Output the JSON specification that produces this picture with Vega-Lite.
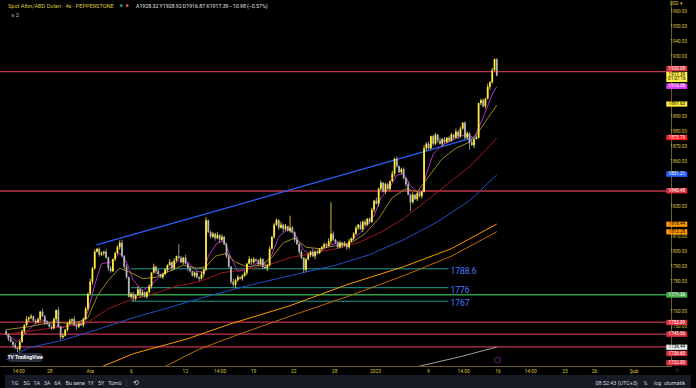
{
"$schema": "https://vega.github.io/schema/vega-lite/v6.json",
"width": 671, "height": 366, "padding": {"left": 0, "top": 0, "right": 25, "bottom": 22}, "autosize": "none",
"background": "#000000",
"config": {"view": {"stroke": null}, "axis": {"grid": false, "ticks": false, "labelFont": "Roboto"}, "text": {"font": "Roboto"}},
"datasets": {
"k": [
{"i":0,"o":1747,"h":1748.2,"l":1744.2,"c":1745},{"i":1,"o":1745,"h":1745.6,"l":1740.4,"c":1742},{"i":2,"o":1742,"h":1744,"l":1739.5,"c":1740},{"i":3,"o":1740,"h":1740.8,"l":1736.1,"c":1738},{"i":4,"o":1738,"h":1739.5,"l":1735,"c":1736},{"i":5,"o":1736,"h":1736.4,"l":1733,"c":1735},{"i":6,"o":1735,"h":1741,"l":1733.7,"c":1740},{"i":7,"o":1740,"h":1748.2,"l":1739.2,"c":1747},{"i":8,"o":1747,"h":1751.6,"l":1745.4,"c":1751},{"i":9,"o":1751,"h":1757,"l":1750.5,"c":1755},
{"i":10,"o":1755,"h":1756.8,"l":1753.1,"c":1756},{"i":11,"o":1756,"h":1758.5,"l":1755,"c":1757},{"i":12,"o":1757,"h":1757.4,"l":1753.4,"c":1754},{"i":13,"o":1754,"h":1755,"l":1751.7,"c":1753},{"i":14,"o":1753,"h":1756.2,"l":1752.2,"c":1755},{"i":15,"o":1755,"h":1760.6,"l":1753.4,"c":1760},{"i":16,"o":1760,"h":1762,"l":1756.5,"c":1757},{"i":17,"o":1757,"h":1757.8,"l":1751.1,"c":1753},{"i":18,"o":1753,"h":1754.5,"l":1751,"c":1752},{"i":19,"o":1752,"h":1752.4,"l":1749.4,"c":1750},
{"i":20,"o":1750,"h":1751,"l":1747.7,"c":1749},{"i":21,"o":1749,"h":1756.2,"l":1748.2,"c":1755},{"i":22,"o":1755,"h":1761.6,"l":1753.4,"c":1761},{"i":23,"o":1761,"h":1763,"l":1749.5,"c":1750},{"i":24,"o":1750,"h":1750.8,"l":1741.1,"c":1743},{"i":25,"o":1743,"h":1745.5,"l":1742,"c":1744},{"i":26,"o":1744,"h":1748.4,"l":1743.4,"c":1748},{"i":27,"o":1748,"h":1753,"l":1746.7,"c":1752},{"i":28,"o":1752,"h":1755.2,"l":1751.2,"c":1754},{"i":29,"o":1754,"h":1755.6,"l":1752.4,"c":1755},
{"i":30,"o":1755,"h":1757,"l":1750.5,"c":1751},{"i":31,"o":1751,"h":1751.8,"l":1748.1,"c":1750},{"i":32,"o":1750,"h":1753.5,"l":1749,"c":1752},{"i":33,"o":1752,"h":1752.4,"l":1750.4,"c":1751},{"i":34,"o":1751,"h":1756,"l":1749.7,"c":1755},{"i":35,"o":1755,"h":1763.2,"l":1754.2,"c":1762},{"i":36,"o":1762,"h":1772.6,"l":1760.4,"c":1772},{"i":37,"o":1772,"h":1782,"l":1771.5,"c":1780},{"i":38,"o":1780,"h":1789.8,"l":1778.1,"c":1789},{"i":39,"o":1789,"h":1801.5,"l":1788,"c":1800},
{"i":40,"o":1800,"h":1802.4,"l":1799.4,"c":1802},{"i":41,"o":1802,"h":1803,"l":1796.7,"c":1798},{"i":42,"o":1798,"h":1800.2,"l":1797.2,"c":1799},{"i":43,"o":1799,"h":1800.6,"l":1797.4,"c":1800},{"i":44,"o":1800,"h":1802,"l":1795.5,"c":1796},{"i":45,"o":1796,"h":1796.8,"l":1787.1,"c":1789},{"i":46,"o":1789,"h":1790.5,"l":1786,"c":1787},{"i":47,"o":1787,"h":1795.4,"l":1786.4,"c":1795},{"i":48,"o":1795,"h":1800,"l":1793.7,"c":1799},{"i":49,"o":1799,"h":1804.2,"l":1798.2,"c":1803},
{"i":50,"o":1803,"h":1807.6,"l":1801.4,"c":1806},{"i":51,"o":1806,"h":1808,"l":1796.5,"c":1797},{"i":52,"o":1797,"h":1797.8,"l":1788.1,"c":1790},{"i":53,"o":1790,"h":1791.5,"l":1782,"c":1783},{"i":54,"o":1783,"h":1783.4,"l":1769.4,"c":1770},{"i":55,"o":1770,"h":1773,"l":1768.7,"c":1772},{"i":56,"o":1772,"h":1773.2,"l":1767,"c":1769},{"i":57,"o":1769,"h":1771.6,"l":1767.4,"c":1771},{"i":58,"o":1771,"h":1777,"l":1770.5,"c":1775},{"i":59,"o":1775,"h":1775.8,"l":1769.1,"c":1771},
{"i":60,"o":1771,"h":1774.5,"l":1770,"c":1773},{"i":61,"o":1773,"h":1773.4,"l":1769.4,"c":1770},{"i":62,"o":1770,"h":1774,"l":1768.7,"c":1773},{"i":63,"o":1773,"h":1778.2,"l":1772.2,"c":1777},{"i":64,"o":1777,"h":1786.6,"l":1775.4,"c":1786},{"i":65,"o":1786,"h":1792,"l":1785.5,"c":1790},{"i":66,"o":1790,"h":1790.8,"l":1785.1,"c":1787},{"i":67,"o":1787,"h":1788.5,"l":1784,"c":1785},{"i":68,"o":1785,"h":1785.4,"l":1782.4,"c":1783},{"i":69,"o":1783,"h":1786,"l":1781.7,"c":1785},
{"i":70,"o":1785,"h":1789.2,"l":1784.2,"c":1788},{"i":71,"o":1788,"h":1791.6,"l":1786.4,"c":1791},{"i":72,"o":1791,"h":1795,"l":1790.5,"c":1793},{"i":73,"o":1793,"h":1793.8,"l":1787.1,"c":1789},{"i":74,"o":1789,"h":1795.5,"l":1788,"c":1794},{"i":75,"o":1794,"h":1797.4,"l":1793.4,"c":1797},{"i":76,"o":1797,"h":1805,"l":1794.7,"c":1796},{"i":77,"o":1796,"h":1797.2,"l":1792.2,"c":1793},{"i":78,"o":1793,"h":1796.6,"l":1791.4,"c":1796},{"i":79,"o":1796,"h":1798,"l":1791.5,"c":1792},
{"i":80,"o":1792,"h":1792.8,"l":1787.1,"c":1789},{"i":81,"o":1789,"h":1790.5,"l":1786,"c":1787},{"i":82,"o":1787,"h":1787.4,"l":1783.4,"c":1784},{"i":83,"o":1784,"h":1787,"l":1782.7,"c":1786},{"i":84,"o":1786,"h":1787.2,"l":1782.2,"c":1783},{"i":85,"o":1783,"h":1783.6,"l":1780.4,"c":1782},{"i":86,"o":1782,"h":1787,"l":1781.5,"c":1785},{"i":87,"o":1785,"h":1788.8,"l":1783.1,"c":1788},{"i":88,"o":1788,"h":1823,"l":1787,"c":1821},{"i":89,"o":1821,"h":1821.4,"l":1812.4,"c":1813},
{"i":90,"o":1813,"h":1814,"l":1808.7,"c":1810},{"i":91,"o":1810,"h":1813.2,"l":1809.2,"c":1812},{"i":92,"o":1812,"h":1812.6,"l":1807.4,"c":1809},{"i":93,"o":1809,"h":1813,"l":1808.5,"c":1811},{"i":94,"o":1811,"h":1811.8,"l":1806.1,"c":1808},{"i":95,"o":1808,"h":1811.5,"l":1807,"c":1810},{"i":96,"o":1810,"h":1810.4,"l":1804.4,"c":1805},{"i":97,"o":1805,"h":1806,"l":1795.7,"c":1797},{"i":98,"o":1797,"h":1798.2,"l":1789.2,"c":1790},{"i":99,"o":1790,"h":1790.6,"l":1778.4,"c":1780},
{"i":100,"o":1780,"h":1782,"l":1776.5,"c":1778},{"i":101,"o":1778,"h":1781.8,"l":1776.1,"c":1781},{"i":102,"o":1781,"h":1784.5,"l":1780,"c":1783},{"i":103,"o":1783,"h":1783.4,"l":1781.4,"c":1782},{"i":104,"o":1782,"h":1785,"l":1780.7,"c":1784},{"i":105,"o":1784,"h":1787.2,"l":1783.2,"c":1786},{"i":106,"o":1786,"h":1792.6,"l":1784.4,"c":1792},{"i":107,"o":1792,"h":1797,"l":1791.5,"c":1795},{"i":108,"o":1795,"h":1795.8,"l":1791.1,"c":1793},{"i":109,"o":1793,"h":1796.5,"l":1792,"c":1795},
{"i":110,"o":1795,"h":1795.4,"l":1793.4,"c":1794},{"i":111,"o":1794,"h":1795,"l":1790.7,"c":1792},{"i":112,"o":1792,"h":1796.2,"l":1791.2,"c":1795},{"i":113,"o":1795,"h":1795.6,"l":1788.4,"c":1790},{"i":114,"o":1790,"h":1792,"l":1788.5,"c":1789},{"i":115,"o":1789,"h":1791.8,"l":1787.1,"c":1791},{"i":116,"o":1791,"h":1803.5,"l":1790,"c":1802},{"i":117,"o":1802,"h":1810.4,"l":1801.4,"c":1810},{"i":118,"o":1810,"h":1819,"l":1808.7,"c":1818},{"i":119,"o":1818,"h":1822.2,"l":1817.2,"c":1821},
{"i":120,"o":1821,"h":1821.6,"l":1814.4,"c":1816},{"i":121,"o":1816,"h":1820,"l":1815.5,"c":1818},{"i":122,"o":1818,"h":1818.8,"l":1813.1,"c":1815},{"i":123,"o":1815,"h":1818.5,"l":1814,"c":1817},{"i":124,"o":1817,"h":1817.4,"l":1813.4,"c":1814},{"i":125,"o":1814,"h":1824,"l":1812.7,"c":1816},{"i":126,"o":1816,"h":1817.2,"l":1812.2,"c":1813},{"i":127,"o":1813,"h":1813.6,"l":1806.4,"c":1808},{"i":128,"o":1808,"h":1810,"l":1804.5,"c":1805},{"i":129,"o":1805,"h":1805.8,"l":1798.1,"c":1800},
{"i":130,"o":1800,"h":1801.5,"l":1795,"c":1796},{"i":131,"o":1796,"h":1796.4,"l":1786,"c":1788},{"i":132,"o":1788,"h":1796,"l":1786.7,"c":1795},{"i":133,"o":1795,"h":1799.2,"l":1794.2,"c":1798},{"i":134,"o":1798,"h":1800.6,"l":1796.4,"c":1800},{"i":135,"o":1800,"h":1802,"l":1796.5,"c":1797},{"i":136,"o":1797,"h":1800.8,"l":1795.1,"c":1800},{"i":137,"o":1800,"h":1801.5,"l":1798,"c":1799},{"i":138,"o":1799,"h":1802.4,"l":1798.4,"c":1802},{"i":139,"o":1802,"h":1804,"l":1800.7,"c":1803},
{"i":140,"o":1803,"h":1806.2,"l":1802.2,"c":1805},{"i":141,"o":1805,"h":1805.6,"l":1802.4,"c":1804},{"i":142,"o":1804,"h":1809,"l":1803.5,"c":1807},{"i":143,"o":1807,"h":1833,"l":1805.1,"c":1812},{"i":144,"o":1812,"h":1813.5,"l":1807,"c":1808},{"i":145,"o":1808,"h":1808.4,"l":1805.4,"c":1806},{"i":146,"o":1806,"h":1807,"l":1801.7,"c":1803},{"i":147,"o":1803,"h":1807.2,"l":1802.2,"c":1806},{"i":148,"o":1806,"h":1806.6,"l":1802.4,"c":1804},{"i":149,"o":1804,"h":1807,"l":1803.5,"c":1805},
{"i":150,"o":1805,"h":1805.8,"l":1801.1,"c":1803},{"i":151,"o":1803,"h":1808.5,"l":1802,"c":1807},{"i":152,"o":1807,"h":1809.4,"l":1806.4,"c":1809},{"i":153,"o":1809,"h":1813,"l":1807.7,"c":1812},{"i":154,"o":1812,"h":1817.2,"l":1811.2,"c":1816},{"i":155,"o":1816,"h":1818.6,"l":1814.4,"c":1818},{"i":156,"o":1818,"h":1820,"l":1814.5,"c":1815},{"i":157,"o":1815,"h":1820.8,"l":1813.1,"c":1820},{"i":158,"o":1820,"h":1821.5,"l":1817,"c":1818},{"i":159,"o":1818,"h":1822.4,"l":1817.4,"c":1822},
{"i":160,"o":1822,"h":1823,"l":1818.7,"c":1820},{"i":161,"o":1820,"h":1829.2,"l":1819.2,"c":1828},{"i":162,"o":1828,"h":1834.6,"l":1826.4,"c":1834},{"i":163,"o":1834,"h":1836,"l":1831.5,"c":1832},{"i":164,"o":1832,"h":1842.8,"l":1830.1,"c":1842},{"i":165,"o":1842,"h":1847.5,"l":1841,"c":1846},{"i":166,"o":1846,"h":1846.4,"l":1839.4,"c":1840},{"i":167,"o":1840,"h":1846,"l":1838.7,"c":1845},{"i":168,"o":1845,"h":1846.2,"l":1841.2,"c":1842},{"i":169,"o":1842,"h":1847.6,"l":1840.4,"c":1847},
{"i":170,"o":1847,"h":1854,"l":1846.5,"c":1852},{"i":171,"o":1852,"h":1862.8,"l":1850.1,"c":1862},{"i":172,"o":1862,"h":1863.5,"l":1856,"c":1857},{"i":173,"o":1857,"h":1857.4,"l":1852.4,"c":1853},{"i":174,"o":1853,"h":1856,"l":1851.7,"c":1855},{"i":175,"o":1855,"h":1856.2,"l":1848.2,"c":1849},{"i":176,"o":1849,"h":1849.6,"l":1843.4,"c":1845},{"i":177,"o":1845,"h":1847,"l":1837.5,"c":1838},{"i":178,"o":1838,"h":1838.8,"l":1827,"c":1833},{"i":179,"o":1833,"h":1839.5,"l":1832,"c":1838},
{"i":180,"o":1838,"h":1838.4,"l":1834.4,"c":1835},{"i":181,"o":1835,"h":1840,"l":1833.7,"c":1839},{"i":182,"o":1839,"h":1840.2,"l":1836.2,"c":1837},{"i":183,"o":1837,"h":1840.6,"l":1835.4,"c":1840},{"i":184,"o":1840,"h":1871,"l":1839.5,"c":1869},{"i":185,"o":1869,"h":1872.8,"l":1867.1,"c":1872},{"i":186,"o":1872,"h":1873.5,"l":1868,"c":1869},{"i":187,"o":1869,"h":1877.4,"l":1868.4,"c":1877},{"i":188,"o":1877,"h":1878,"l":1870.7,"c":1872},{"i":189,"o":1872,"h":1879.2,"l":1871.2,"c":1878},
{"i":190,"o":1878,"h":1878.6,"l":1872.4,"c":1874},{"i":191,"o":1874,"h":1876,"l":1871.5,"c":1872},{"i":192,"o":1872,"h":1875.8,"l":1870.1,"c":1875},{"i":193,"o":1875,"h":1876.5,"l":1872,"c":1873},{"i":194,"o":1873,"h":1876.4,"l":1872.4,"c":1876},{"i":195,"o":1876,"h":1877,"l":1872.7,"c":1874},{"i":196,"o":1874,"h":1879.2,"l":1873.2,"c":1878},{"i":197,"o":1878,"h":1878.6,"l":1874.4,"c":1876},{"i":198,"o":1876,"h":1882,"l":1875.5,"c":1880},{"i":199,"o":1880,"h":1880.8,"l":1875.1,"c":1877},
{"i":200,"o":1877,"h":1883.5,"l":1876,"c":1882},{"i":201,"o":1882,"h":1886.4,"l":1881.4,"c":1886},{"i":202,"o":1886,"h":1887,"l":1874.7,"c":1876},{"i":203,"o":1876,"h":1880.2,"l":1875.2,"c":1879},{"i":204,"o":1879,"h":1879.6,"l":1868,"c":1873},{"i":205,"o":1873,"h":1875,"l":1870.5,"c":1871},{"i":206,"o":1871,"h":1875.8,"l":1869.1,"c":1875},{"i":207,"o":1875,"h":1877.5,"l":1875,"c":1876},{"i":208,"o":1876,"h":1899.4,"l":1875.4,"c":1899},{"i":209,"o":1899,"h":1902,"l":1897.7,"c":1901},
{"i":210,"o":1901,"h":1902.2,"l":1896.2,"c":1897},{"i":211,"o":1897,"h":1902.6,"l":1895.4,"c":1902},{"i":212,"o":1902,"h":1912,"l":1901.5,"c":1910},{"i":213,"o":1910,"h":1913.8,"l":1908.1,"c":1913},{"i":214,"o":1913,"h":1922.5,"l":1912,"c":1921},{"i":215,"o":1921,"h":1928.8,"l":1920.4,"c":1928.37},{"i":216,"o":1928.32,"h":1928.92,"l":1916.87,"c":1917.39}
],
"ma": [
{"s":"m","i":0,"v":1745},{"s":"m","i":5,"v":1740},{"s":"m","i":10,"v":1748},{"s":"m","i":15,"v":1755},{"s":"m","i":20,"v":1752},{"s":"m","i":24,"v":1749},{"s":"m","i":28,"v":1751},{"s":"m","i":33,"v":1752},{"s":"m","i":36,"v":1760},{"s":"m","i":39,"v":1778},{"s":"m","i":42,"v":1792},{"s":"m","i":46,"v":1793},{"s":"m","i":50,"v":1799},{"s":"m","i":53,"v":1793},{"s":"m","i":56,"v":1781},{"s":"m","i":60,"v":1774},{"s":"m","i":64,"v":1778},{"s":"m","i":68,"v":1784},{"s":"m","i":72,"v":1789},{"s":"m","i":76,"v":1794},{"s":"m","i":80,"v":1793},{"s":"m","i":84,"v":1787},{"s":"m","i":87,"v":1786},{"s":"m","i":89,"v":1797},{"s":"m","i":93,"v":1806},{"s":"m","i":96,"v":1807},{"s":"m","i":99,"v":1796},{"s":"m","i":102,"v":1787},{"s":"m","i":106,"v":1788},{"s":"m","i":110,"v":1792},{"s":"m","i":114,"v":1792},{"s":"m","i":117,"v":1798},{"s":"m","i":120,"v":1810},{"s":"m","i":124,"v":1815},{"s":"m","i":127,"v":1812},{"s":"m","i":131,"v":1801},{"s":"m","i":134,"v":1798},{"s":"m","i":138,"v":1800},{"s":"m","i":142,"v":1804},{"s":"m","i":146,"v":1806},{"s":"m","i":150,"v":1805},{"s":"m","i":154,"v":1810},{"s":"m","i":158,"v":1816},{"s":"m","i":162,"v":1824},{"s":"m","i":165,"v":1836},{"s":"m","i":169,"v":1843},{"s":"m","i":172,"v":1851},{"s":"m","i":175,"v":1852},{"s":"m","i":178,"v":1844},{"s":"m","i":181,"v":1840},{"s":"m","i":183,"v":1839},{"s":"m","i":185,"v":1852},{"s":"m","i":188,"v":1865},{"s":"m","i":192,"v":1871},{"s":"m","i":196,"v":1874},{"s":"m","i":200,"v":1877},{"s":"m","i":203,"v":1878},{"s":"m","i":206,"v":1876},{"s":"m","i":209,"v":1886},{"s":"m","i":212,"v":1897},{"s":"m","i":214,"v":1905},{"s":"m","i":216,"v":1910.08},
{"s":"o","i":0,"v":1748},{"s":"o","i":10,"v":1750},{"s":"o","i":20,"v":1753},{"s":"o","i":30,"v":1752},{"s":"o","i":36,"v":1756},{"s":"o","i":40,"v":1770},{"s":"o","i":45,"v":1781},{"s":"o","i":50,"v":1789},{"s":"o","i":55,"v":1786},{"s":"o","i":60,"v":1782},{"s":"o","i":66,"v":1783},{"s":"o","i":72,"v":1787},{"s":"o","i":78,"v":1791},{"s":"o","i":84,"v":1789},{"s":"o","i":88,"v":1790},{"s":"o","i":92,"v":1797},{"s":"o","i":97,"v":1799},{"s":"o","i":101,"v":1793},{"s":"o","i":106,"v":1790},{"s":"o","i":112,"v":1791},{"s":"o","i":117,"v":1796},{"s":"o","i":122,"v":1806},{"s":"o","i":127,"v":1809},{"s":"o","i":132,"v":1803},{"s":"o","i":138,"v":1802},{"s":"o","i":145,"v":1804},{"s":"o","i":152,"v":1806},{"s":"o","i":158,"v":1812},{"s":"o","i":164,"v":1822},{"s":"o","i":170,"v":1836},{"s":"o","i":176,"v":1842},{"s":"o","i":181,"v":1840},{"s":"o","i":186,"v":1850},{"s":"o","i":192,"v":1862},{"s":"o","i":198,"v":1869},{"s":"o","i":204,"v":1873},{"s":"o","i":208,"v":1880},{"s":"o","i":212,"v":1889},{"s":"o","i":216,"v":1897.63},
{"s":"r","i":0,"v":1745},{"s":"r","i":20,"v":1749},{"s":"r","i":35,"v":1752},{"s":"r","i":45,"v":1762},{"s":"r","i":55,"v":1768},{"s":"r","i":65,"v":1772},{"s":"r","i":75,"v":1777},{"s":"r","i":85,"v":1780},{"s":"r","i":95,"v":1786},{"s":"r","i":105,"v":1788},{"s":"r","i":115,"v":1791},{"s":"r","i":125,"v":1796},{"s":"r","i":135,"v":1799},{"s":"r","i":145,"v":1802},{"s":"r","i":155,"v":1806},{"s":"r","i":165,"v":1813},{"s":"r","i":175,"v":1822},{"s":"r","i":185,"v":1834},{"s":"r","i":195,"v":1846},{"s":"r","i":205,"v":1858},{"s":"r","i":216,"v":1875.79},
{"s":"b","i":0,"v":1728},{"s":"b","i":10,"v":1736},{"s":"b","i":25,"v":1741},{"s":"b","i":40,"v":1748},{"s":"b","i":56,"v":1756},{"s":"b","i":70,"v":1762},{"s":"b","i":88,"v":1770},{"s":"b","i":108,"v":1778},{"s":"b","i":125,"v":1784},{"s":"b","i":145,"v":1791},{"s":"b","i":160,"v":1798},{"s":"b","i":175,"v":1808},{"s":"b","i":190,"v":1820},{"s":"b","i":204,"v":1834},{"s":"b","i":216,"v":1851.21},
{"s":"or","i":40,"v":1722},{"s":"or","i":56,"v":1732},{"s":"or","i":80,"v":1742},{"s":"or","i":99,"v":1752},{"s":"or","i":125,"v":1764},{"s":"or","i":150,"v":1778},{"s":"or","i":175,"v":1790},{"s":"or","i":196,"v":1802},{"s":"or","i":216,"v":1818.44},
{"s":"do","i":68,"v":1722},{"s":"do","i":85,"v":1735},{"s":"do","i":99,"v":1743},{"s":"do","i":125,"v":1757},{"s":"do","i":150,"v":1770},{"s":"do","i":175,"v":1784},{"s":"do","i":196,"v":1797},{"s":"do","i":216,"v":1813.28},
{"s":"g","i":180,"v":1723},{"s":"g","i":200,"v":1730},{"s":"g","i":216,"v":1736.44}
],
"hl": [
{"p":1920.08,"col":"#c2334a"},{"p":1840.48,"col":"#c2334a"},{"p":1771.3,"col":"#2a9d44"},{"p":1753.09,"col":"#c2334a"},{"p":1745.0,"col":"#c2334a"},{"p":1736.6,"col":"#c2334a"}
],
"lv": [
{"a":55.0,"b":194.7,"p":1788.6,"t":"1788.6"},{"a":55.0,"b":194.7,"p":1776,"t":"1776"},{"a":55.0,"b":194.7,"p":1767,"t":"1767"}
],
"tr": [{"a":39.8,"pa":1804.5,"b":206.8,"pb":1876.5}],
"yt": [
{"p":1960,"t":"1960.00"},{"p":1950,"t":"1950.00"},{"p":1940,"t":"1940.00"},{"p":1930,"t":"1930.00"},{"p":1890,"t":"1890.00"},{"p":1880,"t":"1880.00"},{"p":1870,"t":"1870.00"},{"p":1860,"t":"1860.00"},{"p":1830,"t":"1830.00"},{"p":1810,"t":"1810.00"},{"p":1800,"t":"1800.00"},{"p":1790,"t":"1790.00"},{"p":1780,"t":"1780.00"},{"p":1760,"t":"1760.00"},{"p":1750,"t":"1750.00"}
],
"box": [
{"t":"1920.08","p":1922.13,"bg":"#e0303f","fg":"#ffffff"},
{"t":"1917.39","p":1918.13,"bg":"#fff04a","fg":"#000000"},
{"t":"01:07:16","p":1914.9,"bg":"#fff04a","fg":"#000000"},
{"t":"1910.08","p":1910.27,"bg":"#e040fb","fg":"#ffffff"},
{"t":"1897.63","p":1898.47,"bg":"#ffeb3b","fg":"#000000"},
{"t":"1875.79","p":1876.13,"bg":"#ff1a1a","fg":"#ffffff"},
{"t":"1851.21","p":1851.67,"bg":"#2962ff","fg":"#ffffff"},
{"t":"1840.48","p":1840.6,"bg":"#e0303f","fg":"#ffffff"},
{"t":"1818.44","p":1818.33,"bg":"#ff9800","fg":"#000000"},
{"t":"1813.28","p":1813.27,"bg":"#ff9800","fg":"#000000"},
{"t":"1771.30","p":1771.13,"bg":"#4caf50","fg":"#ffffff"},
{"t":"1753.09","p":1752.8,"bg":"#e0303f","fg":"#ffffff"},
{"t":"1745.00","p":1745.0,"bg":"#e0303f","fg":"#ffffff"},
{"t":"1736.44","p":1736.33,"bg":"#ececec","fg":"#000000"},
{"t":"1736.60","p":1732.13,"bg":"#e0303f","fg":"#ffffff"},
{"t":"1722.00","p":1725.93,"bg":"#e0303f","fg":"#ffffff"}
],
"txt": [
{"t":"Spot Altın/ABD Doları · 4s · PEPPERSTONE","i":0.8,"p":1964.1,"col":"#d8c43c","fs":5.6},
{"t":"A1928.32  Y1928.92  D1916.87  K1917.39  −10.98 (−0.57%)","i":57.2,"p":1964.1,"col":"#e6e6e6","fs":5.2},
{"t":"∨ 2","i":2.0,"p":1957.5,"col":"#d1d4dc","fs":5},
{"t":"USD ▾","i":292.2,"p":1965.3,"col":"#d8c43c","fs":4.6},
{"t":"1G","i":2.3,"p":1712.5,"col":"#d1d4dc","fs":5.4},
{"t":"5G","i":7.5,"p":1712.5,"col":"#d1d4dc","fs":5.4},
{"t":"1A","i":12.0,"p":1712.5,"col":"#d1d4dc","fs":5.4},
{"t":"3A","i":16.6,"p":1712.5,"col":"#d1d4dc","fs":5.4},
{"t":"6A","i":21.2,"p":1712.5,"col":"#d1d4dc","fs":5.4},
{"t":"Bu sene","i":26.2,"p":1712.5,"col":"#d1d4dc","fs":5.4},
{"t":"1Y","i":35.8,"p":1712.5,"col":"#d1d4dc","fs":5.4},
{"t":"5Y","i":40.4,"p":1712.5,"col":"#d1d4dc","fs":5.4},
{"t":"Tümü","i":44.8,"p":1712.5,"col":"#d1d4dc","fs":5.4},
{"t":"|","i":52.6,"p":1712.5,"col":"#50535e","fs":7},
{"t":"⟲","i":55.8,"p":1712.5,"col":"#d1d4dc","fs":7},
{"t":"08:52:43 (UTC+3)","i":259.5,"p":1712.5,"col":"#d1d4dc","fs":5.4},
{"t":"%","i":280.6,"p":1712.5,"col":"#d1d4dc","fs":5.4},
{"t":"log","i":285.2,"p":1712.5,"col":"#d1d4dc","fs":5.4},
{"t":"otomatik","i":289.6,"p":1712.5,"col":"#d1d4dc","fs":5.4},
{"t":"○","i":294.6,"p":1721.0,"col":"#b0b0b0","fs":6}
],
"band": [{"a":-0.5,"b":301.4,"p1":1717.8,"p2":1705}],
"logo": [{"i":8.4,"p":1729.5}],
"ev": [{"i":216.3,"p":1727.8}],
"dots": [{"i":50.7,"p":1964.1,"col":"#26a69a"},{"i":53.3,"p":1964.1,"col":"#ef5350"}]
},
"layer": [
{"data":{"name":"band"},"mark":{"type":"rect","color":"#171b26"},
 "encoding":{"x":{"field":"a","type":"quantitative","scale":{"domain":[-0.5,290.5],"nice":false,"zero":false},
  "axis":{"values":[5.27,19.0,36.8,54.9,78.7,94.0,108.7,126.4,144.4,162.4,185.7,201.2,216.3,230.7,245.8,258.8,276.2],
  "labelExpr":"datum.value < 10 ? '14:00' : datum.value < 25 ? '28' : datum.value < 45 ? 'Ara' : datum.value < 60 ? '6' : datum.value < 85 ? '12' : datum.value < 100 ? '14:00' : datum.value < 115 ? '19' : datum.value < 135 ? '22' : datum.value < 150 ? '28' : datum.value < 170 ? '2023' : datum.value < 190 ? '9' : datum.value < 210 ? '14:00' : datum.value < 225 ? '16' : datum.value < 240 ? '14:00' : datum.value < 252 ? '23' : datum.value < 268 ? '26' : 'Şub'",
  "labelFontSize":5,"labelColor":"#d8c43c","domainColor":"#6b5d1c","labelPadding":2,"title":null,"labelOverlap":false,"labelFlush":false}},
  "x2":{"field":"b"},
 "y":{"field":"p1","type":"quantitative","scale":{"domain":[1723.8,1967.8],"nice":false,"zero":false},
  "axis":{"orient":"right","labels":false,"domainColor":"#6b5d1c","title":null}},
  "y2":{"field":"p2"}}},
{"data":{"name":"hl"},"mark":{"type":"rule","strokeWidth":1.3},
 "encoding":{"y":{"field":"p","type":"quantitative"},"color":{"field":"col","type":"nominal","scale":null,"legend":null}}},
{"data":{"name":"lv"},"mark":{"type":"rule","strokeWidth":1,"color":"#1f9e8e"},
 "encoding":{"x":{"field":"a","type":"quantitative"},"x2":{"field":"b"},"y":{"field":"p","type":"quantitative"}}},
{"data":{"name":"lv"},"mark":{"type":"text","align":"left","baseline":"middle","dx":2,"dy":2,"fontSize":8.5,"color":"#4a7bff"},
 "encoding":{"x":{"field":"b","type":"quantitative"},"y":{"field":"p","type":"quantitative"},"text":{"field":"t"}}},
{"data":{"name":"tr"},"mark":{"type":"rule","strokeWidth":1.2,"color":"#2962ff"},
 "encoding":{"x":{"field":"a","type":"quantitative"},"x2":{"field":"b"},"y":{"field":"pa","type":"quantitative"},"y2":{"field":"pb"}}},
{"data":{"name":"ma"},"mark":{"type":"line","strokeWidth":1,"clip":true},
 "encoding":{"x":{"field":"i","type":"quantitative"},"y":{"field":"v","type":"quantitative"},
 "color":{"field":"s","type":"nominal","legend":null,"scale":{"domain":["m","o","r","b","or","do","g"],"range":["#b032c8","#9a8420","#a01818","#2050c8","#ff9800","#c06a00","#a0a0a0"]}},"order":{"field":"i"}}},
{"data":{"name":"k"},"mark":{"type":"rule","strokeWidth":0.8},
 "encoding":{"x":{"field":"i","type":"quantitative"},
 "y":{"field":"l","type":"quantitative"},
 "y2":{"field":"h"},
 "color":{"condition":{"test":"datum.c >= datum.o","value":"#ffeb3b"},"value":"#b4b4b4"}}},
{"data":{"name":"k"},"mark":{"type":"bar","size":1.8,"orient":"vertical"},
 "encoding":{"x":{"field":"i","type":"quantitative"},"y":{"field":"o","type":"quantitative"},"y2":{"field":"c"},
 "color":{"condition":{"test":"datum.c >= datum.o","value":"#ffeb3b"},"value":"#b4b4b4"}}},
{"data":{"name":"yt"},"mark":{"type":"text","align":"left","baseline":"middle","fontSize":4.6,"color":"#d8c43c"},
 "encoding":{"x":{"datum":292.4,"type":"quantitative"},"y":{"field":"p","type":"quantitative"},"text":{"field":"t"}}},
{"data":{"name":"box"},"mark":{"type":"tick","orient":"horizontal","size":21,"thickness":5.3,"opacity":1},
 "encoding":{"x":{"datum":295.25,"type":"quantitative"},"y":{"field":"p","type":"quantitative"},"color":{"field":"bg","type":"nominal","scale":null,"legend":null}}},
{"data":{"name":"box"},"mark":{"type":"text","align":"center","baseline":"middle","fontSize":4.5},
 "encoding":{"x":{"datum":295.25,"type":"quantitative"},"y":{"field":"p","type":"quantitative"},"text":{"field":"t"},"color":{"field":"fg","type":"nominal","scale":null,"legend":null}}},
{"data":{"name":"logo"},"mark":{"type":"tick","orient":"horizontal","size":35,"thickness":9,"color":"#2a2e39","cornerRadius":3,"opacity":1},
 "encoding":{"x":{"field":"i","type":"quantitative"},"y":{"field":"p","type":"quantitative"}}},
{"data":{"name":"logo"},"mark":{"type":"text","align":"center","baseline":"middle","fontSize":5,"fontWeight":"bold","color":"#ffffff","text":"TV TradingView"},
 "encoding":{"x":{"field":"i","type":"quantitative"},"y":{"field":"p","type":"quantitative"}}},
{"data":{"name":"ev"},"mark":{"type":"point","filled":false,"size":36,"strokeWidth":1,"color":"#9c27b0"},
 "encoding":{"x":{"field":"i","type":"quantitative"},"y":{"field":"p","type":"quantitative"}}},
{"data":{"name":"dots"},"mark":{"type":"point","filled":true,"size":8,"opacity":1},
 "encoding":{"x":{"field":"i","type":"quantitative"},"y":{"field":"p","type":"quantitative"},"color":{"field":"col","type":"nominal","scale":null,"legend":null}}},
{"data":{"name":"txt"},"mark":{"type":"text","align":"left","baseline":"middle"},
 "encoding":{"x":{"field":"i","type":"quantitative"},"y":{"field":"p","type":"quantitative"},"text":{"field":"t"},
 "color":{"field":"col","type":"nominal","scale":null,"legend":null},"size":{"field":"fs","type":"quantitative","scale":null}}}
]
}
